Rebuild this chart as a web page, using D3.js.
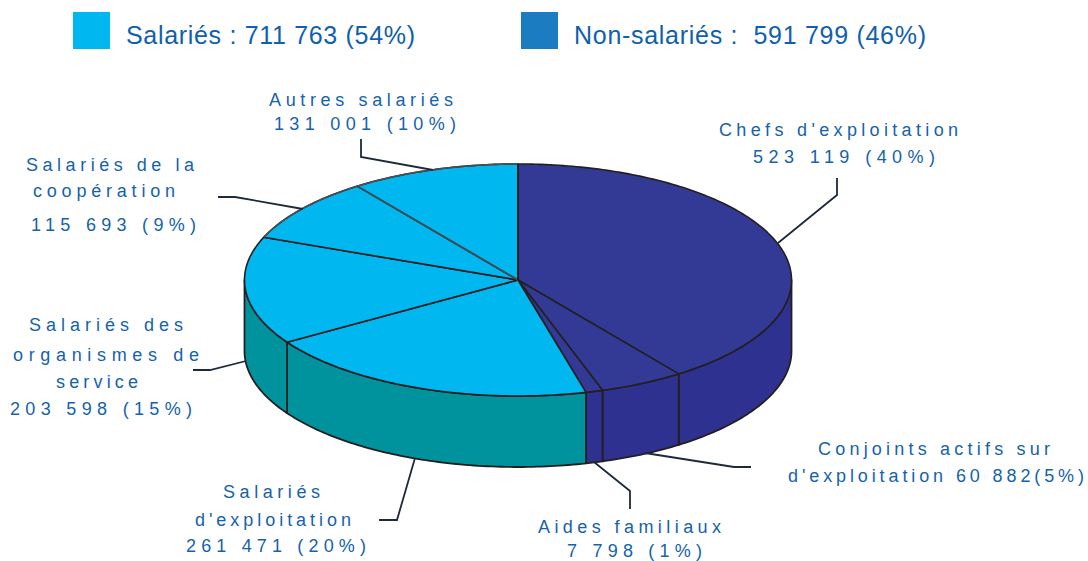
<!DOCTYPE html>
<html><head><meta charset="utf-8">
<script src="https://cdn.jsdelivr.net/npm/d3@7"></script>
<style>html,body{margin:0;padding:0;background:#fff;overflow:hidden}svg{display:block}</style>
</head><body><svg id="c" width="1088" height="561"></svg>
<script>
// Data
const categories = ["Chefs d'exploitation","Conjoints actifs sur d'exploitation","Aides familiaux","Salariés d'exploitation","Salariés des organismes de service","Salariés de la coopération","Autres salariés"];
const counts = [523119,60882,7798,261471,203598,115693,131001];
const percents = [40,5,1,20,15,9,10];
const groups = ["non","non","non","sal","sal","sal","sal"];
const legendLabels = ["Salariés : 711 763 (54%)","Non-salariés :  591 799 (46%)"];

const svg = d3.select("#c");
const cx=518, cy=280, rx=273.5, ry=116, depth=71;
const TOP="#333a96", LIGHT="#00b7f0", WALL={non:"#2e3190",sal:"#00939e"}, TXT="#1562ad", INK="#231f20", GREY="#4a4f55";

const sx=d3.scaleLinear().domain([-1,1]).range([cx-rx,cx+rx]);
const sy=d3.scaleLinear().domain([-1,1]).range([cy-ry,cy+ry]);
const px=t=>sx(Math.sin(t)), py=t=>sy(-Math.cos(t));
const line=d3.line().x(d=>d[0]).y(d=>d[1]);
const arcPts=(a,b,dy=0)=>{const n=Math.max(2,Math.ceil(Math.abs(b-a)*60));
  return d3.range(n+1).map(i=>{const t=a+(b-a)*i/n;return [px(t),py(t)+dy];});};

const arcs=d3.pie().sort(null).value(d=>d)(percents);

// Side walls (front half only)
arcs.forEach((d,i)=>{
  const a=Math.max(d.startAngle,Math.PI/2), b=Math.min(d.endAngle,3*Math.PI/2);
  if(b<=a) return;
  const pts=arcPts(a,b).concat(arcPts(b,a,depth));
  svg.append("path").attr("d",line(pts)+"Z").attr("fill",WALL[groups[i]])
    .attr("stroke",INK).attr("stroke-width",1.8).attr("stroke-linejoin","round");
});
// Top slices
arcs.forEach((d,i)=>{
  const pts=[[cx,cy]].concat(arcPts(d.startAngle,d.endAngle));
  svg.append("path").attr("d",line(pts)+"Z").attr("fill",groups[i]==="non"?TOP:LIGHT)
    .attr("stroke",INK).attr("stroke-width",1.6).attr("stroke-linejoin","round");
});
// Lighter rim and divider of the upper-left slices
svg.append("path").attr("d",line(arcPts(arcs[5].startAngle,arcs[6].endAngle)))
  .attr("stroke",GREY).attr("stroke-width",1.6).attr("fill","none");
svg.append("path").attr("d",line([[cx,cy],[px(arcs[6].startAngle),py(arcs[6].startAngle)]]))
  .attr("stroke",GREY).attr("stroke-width",1.6).attr("fill","none");
svg.append("path").attr("d",line([[cx,cy],[px(0),py(0)]]))
  .attr("stroke",INK).attr("stroke-width",1.8).attr("fill","none");

// Legend
[[73,LIGHT,126,415],[521,"#1b7cc1",574,926]].forEach((l,i)=>{
  svg.append("rect").attr("x",l[0]).attr("y",12).attr("width",37).attr("height",37).attr("fill",l[1]);
  svg.append("text").attr("x",l[2]).attr("y",44).attr("textLength",l[3]-l[2]).attr("lengthAdjust","spacing")
    .attr("font-family","Liberation Sans").attr("font-size",25).attr("fill","#0f60ae")
    .attr("xml:space","preserve").style("white-space","pre").text(legendLabels[i]);
});

// Labels: text, left, right, baseline
const labelLines=[
 ["Autres salariés",269,453,106],["131 001 (10%)",274,456,130],
 ["Chefs d'exploitation",719,958,136],["523 119 (40%)",753,935,163],
 ["Salariés de la",26,194,171],["coopération",33,175,197],["115 693 (9%)",31,196,231],
 ["Salariés des",29,183,331],["organismes de",13,199,361],["service",56,138,388],["203 598 (15%)",10,192,415],
 ["Salariés",223,320,498],["d'exploitation",195,351,526],["261 471 (20%)",186,366,552],
 ["Aides familiaux",538,721,533],["7 798 (1%)",567,702,557],
 ["Conjoints actifs sur",818,1050,455],["d'exploitation 60 882(5%)",788,1084,482]
];
svg.selectAll("text.l").data(labelLines).join("text").attr("class","l")
  .attr("x",d=>d[1]).attr("y",d=>d[3]).attr("textLength",d=>d[2]-d[1]).attr("lengthAdjust","spacing")
  .attr("font-family","Liberation Sans").attr("font-size",18).attr("fill",TXT).text(d=>d[0]);

// Leader lines
const leaders=[
 [[361,139],[361,157],[433,170]],
 [[218,197],[235,197],[303,209]],
 [[193,370],[210,370],[246,361]],
 [[379,520],[397,520],[415,458]],
 [[630,509],[630,491],[594,462]],
 [[751,467],[734,467],[645,453]],
 [[837,178],[837,195],[778,243]]
];
svg.selectAll("path.lead").data(leaders).join("path").attr("class","lead")
  .attr("d",d=>line(d)).attr("fill","none").attr("stroke","#1d2a3a").attr("stroke-width",1.8);
</script></body></html>
